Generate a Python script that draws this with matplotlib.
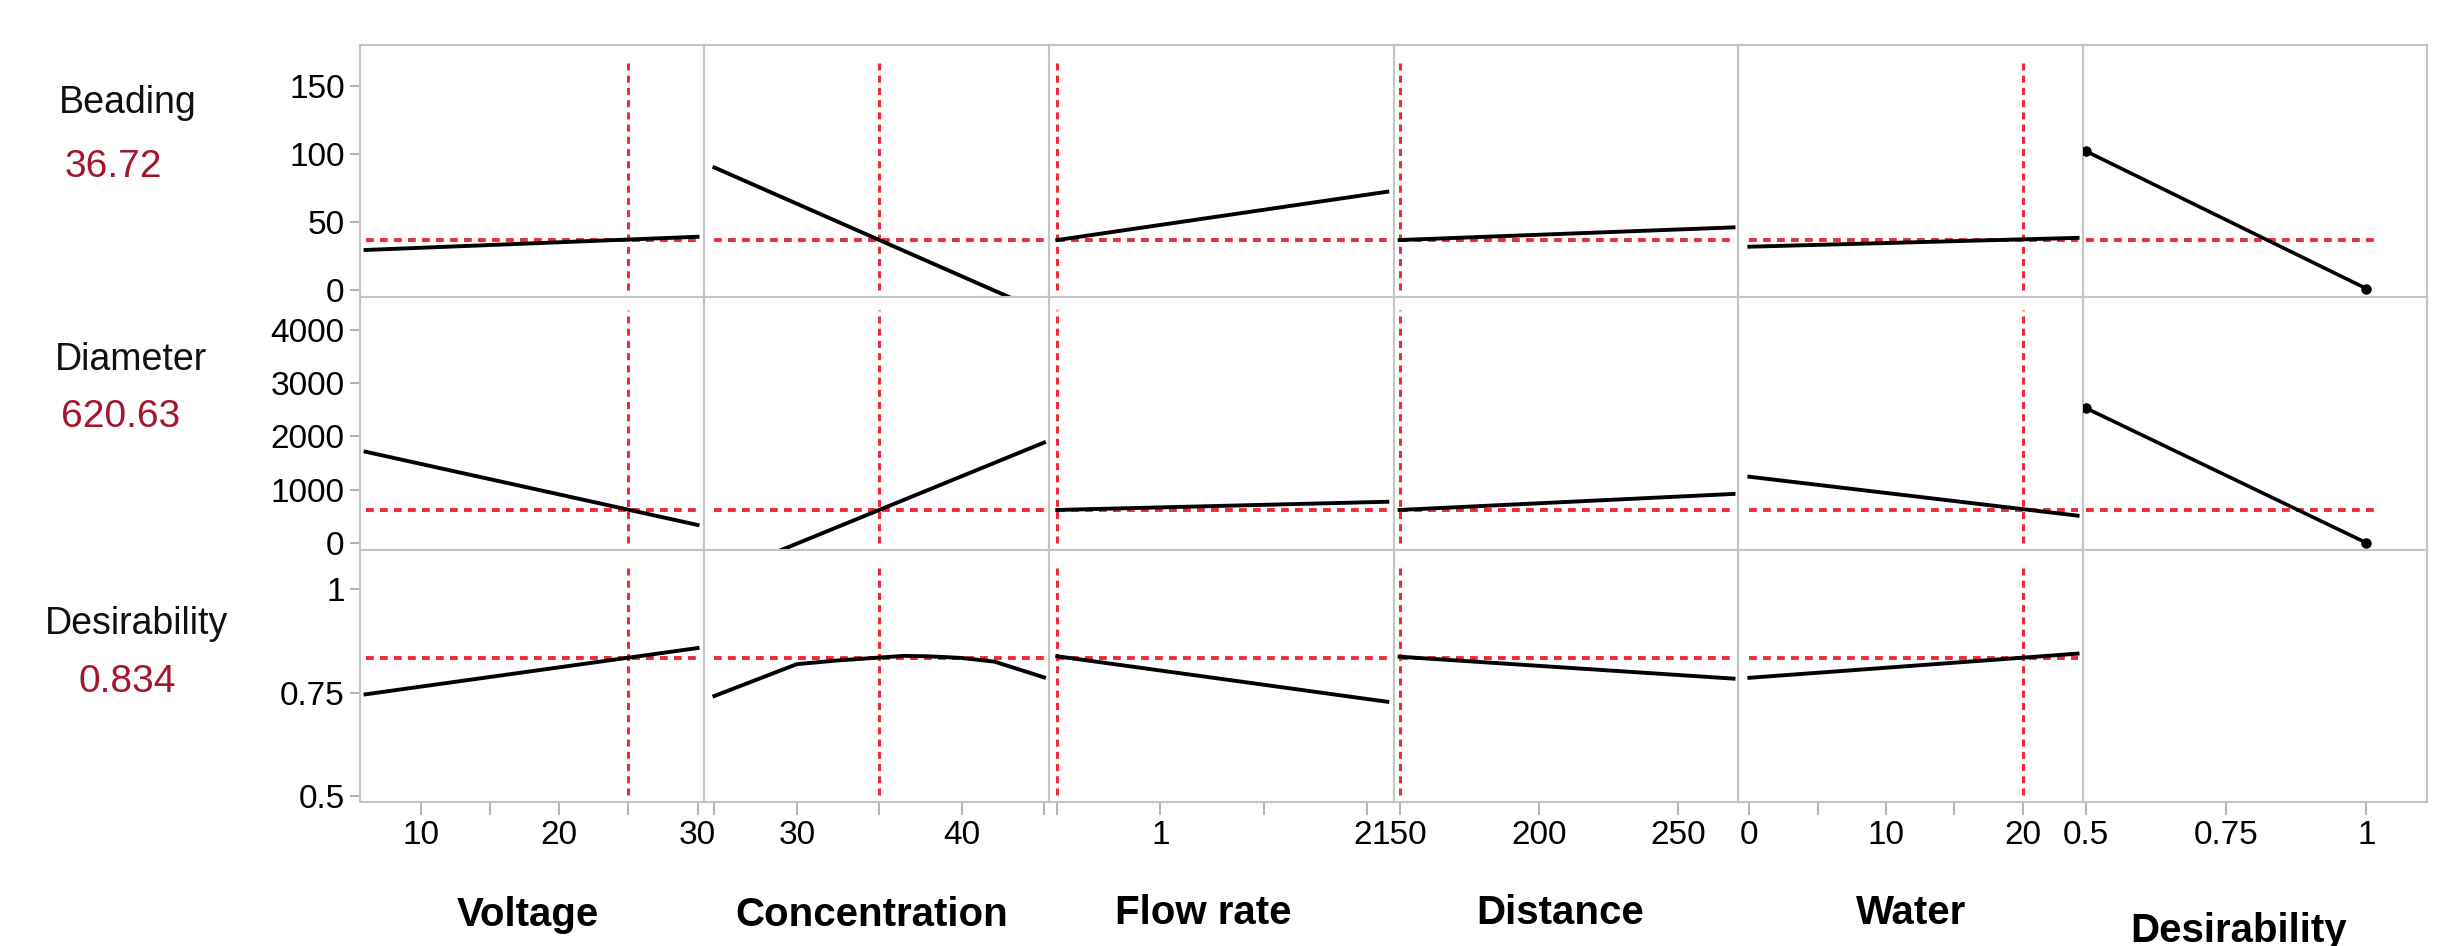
import numpy as np
import matplotlib
matplotlib.use("Agg")
import matplotlib.pyplot as plt
import matplotlib.transforms as mtransforms
from matplotlib import font_manager

# prediction profiler
responses = ["Beading", "Diameter", "Desirability"]
response_values = ["36.72", "620.63", "0.834"]
current = [36.72, 620.63, 0.834]

factors = ["Voltage", "Concentration", "Flow rate", "Distance", "Water", "Desirability"]
factor_ranges = [[6, 30], [25, 45], [0.5, 2.1], [150, 270], [0, 24]]
settings = [25, 35, 0.5, 150, 20]

beading = [[29.4, 39.1], [90, -16.5], [36.7, 72.2], [36.7, 46.0], [31.8, 38.3]]
diameter = [[1714, 338], [-646, 1886], [620, 774], [620, 921], [1244, 513]]
desirability = [[0.746, 0.858], None, [0.838, 0.728], [0.837, 0.784], [0.786, 0.8445]]
conc_curve_x = [25, 30, 32.5, 35, 36.5, 38, 40, 42, 45]
conc_curve_y = [0.742, 0.819, 0.828, 0.835, 0.839, 0.838, 0.834, 0.825, 0.787]

des_x = [0.5, 1.0]
des_beading = [102, 1]
des_diameter = [2534, 2]

x_major = [[10, 20, 30], [30, 40], [1, 2], [150, 200, 250], [0, 10, 20], [0.5, 0.75, 1]]
x_minor = [[15, 25], [25, 35, 45], [0.5, 1.5], [], [5, 15], []]
y_major = [[0, 50, 100, 150], [0, 1000, 2000, 3000, 4000], [0.5, 0.75, 1]]

xlims = [(5.6, 30.5), (24.4, 45.3), (0.46, 2.13), (147.8, 271.6), (-0.83, 24.36), (0.494, 1.108)]
ylims = [(-5.4, 180), (-126, 4614), (0.4855, 1.096)]

W, H = 2454, 946
RED = "#ee2a3c"
GRAY = "#c4c4c4"
VALRED = "#a3162c"
HSTYLE = dict(color=RED, lw=2.8, linestyle=(0, (2.0, 1.6)), zorder=2)
VSTYLE = dict(color=RED, lw=2.2, linestyle=(0, (2.3, 1.7)), zorder=2)


def has_font(name):
    try:
        font_manager.findfont(name, fallback_to_default=False)
        return True
    except ValueError:
        return False


if has_font("Liberation Sans Narrow"):
    tick_font = dict(family="Liberation Sans Narrow", size=28)
else:
    tick_font = dict(family="Liberation Sans", size=24)
plt.rcParams["font.family"] = ["Liberation Sans", "DejaVu Sans"]

fig = plt.figure(figsize=(W / 100, H / 100), dpi=100)
col_edges = np.linspace(360, 2427, 7)
row_edges = np.linspace(45, 802, 4)


def fmt(v):
    return "{:g}".format(v)


for r in range(3):
    for c in range(6):
        x0, x1 = col_edges[c], col_edges[c + 1]
        y0, y1 = row_edges[r], row_edges[r + 1]
        ax = fig.add_axes([x0 / W, 1 - y1 / H, (x1 - x0) / W, (y1 - y0) / H])
        ax.set_xlim(*xlims[c])
        ax.set_ylim(*ylims[r])
        for s in ax.spines.values():
            s.set_color(GRAY)
            s.set_linewidth(1.5)

        if c < 5:
            xs = factor_ranges[c]
            if r == 0:
                ax.plot(xs, beading[c], color="black", lw=2.8, zorder=3)
            elif r == 1:
                ax.plot(xs, diameter[c], color="black", lw=2.8, zorder=3)
            elif c == 1:
                ax.plot(conc_curve_x, conc_curve_y, color="black", lw=2.8, zorder=3)
            else:
                ax.plot(xs, desirability[c], color="black", lw=2.8, zorder=3)
            ax.axvline(settings[c], ymin=0.028, ymax=0.948, **VSTYLE)
            ax.hlines(current[r], xs[0], xs[-1], **HSTYLE)
        elif r < 2:
            ys = des_beading if r == 0 else des_diameter
            ax.plot(des_x, ys, color="black", lw=2.6, marker="o", ms=6.5, zorder=3)
            ax.hlines(current[r], des_x[0], des_x[-1] + 0.015, **HSTYLE)

        if r == 2:
            ax.set_xticks(x_major[c])
            labels = ax.set_xticklabels([fmt(v) for v in x_major[c]], **tick_font)
            ax.set_xticks(x_minor[c], minor=True)
            ax.tick_params(axis="x", which="both", direction="out", length=9,
                           width=1.2, color="#a8a8a8", pad=4)
            if c == 2:
                # keep "2" from running into "150" of the next panel
                shift = mtransforms.ScaledTranslation(-4 / 100, 0, fig.dpi_scale_trans)
                labels[-1].set_transform(labels[-1].get_transform() + shift)
        else:
            ax.set_xticks([])
            ax.set_xticks([], minor=True)

        if c == 0:
            ax.set_yticks(y_major[r])
            ax.set_yticklabels([fmt(v) for v in y_major[r]], **tick_font)
            ax.tick_params(axis="y", direction="out", length=7, width=1.2,
                           color="#a8a8a8", pad=4)
        else:
            ax.set_yticks([])

# response names and current values on the left
name_pos = [(128, 113), (131, 370), (136, 634)]
value_pos = [(113, 177), (121, 427), (127, 692)]
for name, val, (nx, ny), (vx, vy) in zip(responses, response_values, name_pos, value_pos):
    fig.text(nx / W, 1 - ny / H, name, ha="center", va="baseline", fontsize=27, color="#111111")
    fig.text(vx / W, 1 - vy / H, val, ha="center", va="baseline", fontsize=28, color=VALRED)

# factor labels under the columns
label_x = [528, 872, 1203, 1560, 1911, 2239]
label_y = [926, 926, 924, 924, 924, 942]
for name, lx, ly in zip(factors, label_x, label_y):
    fig.text(lx / W, 1 - ly / H, name, ha="center", va="baseline", fontsize=29,
             fontweight="bold", color="black")

fig.savefig("out.png", dpi=100, facecolor="white")
